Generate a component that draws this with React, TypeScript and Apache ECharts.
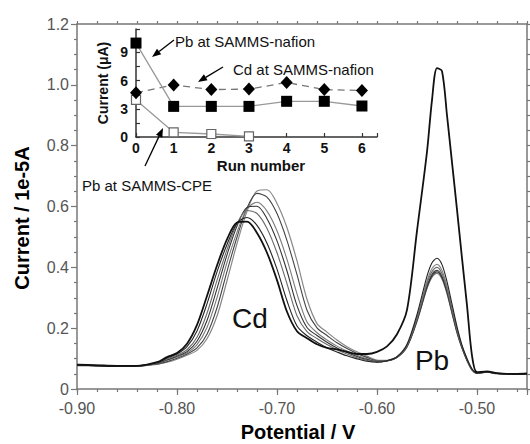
import React, { useEffect, useRef } from "react";
import * as echarts from "echarts";

// Potential grid (V), shared by all voltammograms
const potential = [
  -0.9, -0.88, -0.86, -0.84, -0.82, -0.81, -0.8, -0.79, -0.78, -0.77, -0.76, -0.75, -0.74, -0.73, -0.72, -0.71,
  -0.7, -0.69, -0.68, -0.67, -0.66, -0.65, -0.64, -0.63, -0.62, -0.61, -0.6, -0.59, -0.58, -0.57, -0.56, -0.55,
  -0.545, -0.54, -0.535, -0.53, -0.525, -0.52, -0.515, -0.51, -0.505, -0.5, -0.49, -0.48, -0.47, -0.46, -0.45,
];

// Current (1e-5 A) for runs 0..6
const run0 = [
  0.08, 0.078, 0.076, 0.076, 0.088, 0.105, 0.118, 0.149, 0.211, 0.306, 0.406, 0.492, 0.547, 0.55, 0.513, 0.448,
  0.358, 0.254, 0.19, 0.167, 0.147, 0.135, 0.13, 0.122, 0.115, 0.115, 0.122, 0.14, 0.18, 0.26, 0.52, 0.78,
  0.95, 1.055, 1.045, 0.9, 0.745, 0.59, 0.43, 0.275, 0.11, 0.055, 0.058, 0.052, 0.05, 0.05, 0.051,
];
const run1 = [
  0.078, 0.077, 0.075, 0.076, 0.086, 0.102, 0.115, 0.139, 0.191, 0.28, 0.385, 0.475, 0.545, 0.564, 0.538, 0.479,
  0.394, 0.29, 0.207, 0.175, 0.154, 0.136, 0.122, 0.109, 0.099, 0.091, 0.088, 0.093, 0.106, 0.147, 0.245, 0.371,
  0.415, 0.43, 0.409, 0.353, 0.279, 0.205, 0.144, 0.1, 0.066, 0.053, 0.056, 0.051, 0.05, 0.049, 0.05,
];
const run2 = [
  0.079, 0.078, 0.076, 0.075, 0.085, 0.099, 0.111, 0.129, 0.17, 0.249, 0.357, 0.458, 0.544, 0.587, 0.577, 0.528,
  0.448, 0.346, 0.241, 0.189, 0.166, 0.146, 0.129, 0.115, 0.103, 0.094, 0.089, 0.093, 0.105, 0.142, 0.231, 0.347,
  0.386, 0.4, 0.38, 0.329, 0.26, 0.193, 0.14, 0.097, 0.064, 0.052, 0.055, 0.051, 0.049, 0.05, 0.05,
];
const run3 = [
  0.077, 0.076, 0.075, 0.076, 0.084, 0.096, 0.108, 0.123, 0.157, 0.225, 0.33, 0.441, 0.536, 0.597, 0.601, 0.56,
  0.487, 0.388, 0.274, 0.202, 0.176, 0.154, 0.135, 0.12, 0.107, 0.097, 0.09, 0.092, 0.104, 0.139, 0.224, 0.334,
  0.372, 0.385, 0.366, 0.317, 0.251, 0.186, 0.135, 0.094, 0.063, 0.052, 0.056, 0.05, 0.05, 0.049, 0.05,
];
const run4 = [
  0.078, 0.077, 0.076, 0.075, 0.083, 0.094, 0.105, 0.119, 0.146, 0.202, 0.3, 0.416, 0.515, 0.592, 0.614, 0.585,
  0.52, 0.426, 0.313, 0.22, 0.185, 0.161, 0.141, 0.125, 0.111, 0.099, 0.091, 0.092, 0.103, 0.138, 0.222, 0.33,
  0.367, 0.38, 0.361, 0.313, 0.248, 0.184, 0.133, 0.093, 0.062, 0.051, 0.055, 0.051, 0.05, 0.05, 0.049,
];
const run5 = [
  0.079, 0.078, 0.075, 0.076, 0.082, 0.09, 0.101, 0.115, 0.135, 0.18, 0.267, 0.387, 0.499, 0.595, 0.643, 0.631,
  0.577, 0.488, 0.376, 0.259, 0.201, 0.176, 0.152, 0.133, 0.117, 0.104, 0.093, 0.093, 0.104, 0.14, 0.227, 0.338,
  0.377, 0.39, 0.371, 0.321, 0.254, 0.189, 0.137, 0.095, 0.063, 0.052, 0.056, 0.051, 0.05, 0.05, 0.05,
];
const run6 = [
  0.08, 0.077, 0.076, 0.075, 0.081, 0.088, 0.098, 0.111, 0.127, 0.165, 0.24, 0.356, 0.478, 0.584, 0.651, 0.655,
  0.61, 0.53, 0.421, 0.295, 0.215, 0.187, 0.161, 0.139, 0.122, 0.108, 0.095, 0.094, 0.105, 0.143, 0.236, 0.355,
  0.396, 0.41, 0.39, 0.337, 0.266, 0.197, 0.14, 0.098, 0.065, 0.053, 0.057, 0.052, 0.05, 0.049, 0.05,
];
const runs = [run0, run1, run2, run3, run4, run5, run6];

// Inset data (Current in uA vs run number)
const runNumber = [0, 1, 2, 3, 4, 5, 6];
const pbNafion = [10.0, 3.26, 3.26, 3.26, 3.8, 3.8, 3.3];
const cdNafion = [4.7, 5.55, 5.05, 5.1, 5.8, 5.05, 4.95];
const cpeRuns = [0, 1, 2, 3];
const pbCpe = [3.95, 0.5, 0.32, 0.07];

const SANS = "'Liberation Sans', Arial, sans-serif";

const curveStyles = [
  { color: "#111", width: 1.8 },
  { color: "#222", width: 1.1 },
  { color: "#6a6a6a", width: 1.1 },
  { color: "#333", width: 1.1 },
  { color: "#7a7a7a", width: 1.1 },
  { color: "#444", width: 1.1 },
  { color: "#888", width: 1.2 },
];

function arrow(x1: number, y1: number, x2: number, y2: number) {
  const dx = x2 - x1;
  const dy = y2 - y1;
  const len = Math.sqrt(dx * dx + dy * dy);
  const ux = dx / len;
  const uy = dy / len;
  const hl = 9;
  const hw = 3.5;
  const bx = x2 - ux * hl;
  const by = y2 - uy * hl;
  return [
    {
      type: "line",
      shape: { x1, y1, x2: bx, y2: by },
      style: { stroke: "#000", lineWidth: 1.3 },
      z: 100,
    },
    {
      type: "polygon",
      shape: {
        points: [
          [x2, y2],
          [bx - uy * hw, by + ux * hw],
          [bx + uy * hw, by - ux * hw],
        ],
      },
      style: { fill: "#000" },
      z: 100,
    },
  ];
}

export default function App() {
  const ref = useRef<HTMLDivElement>(null);

  useEffect(() => {
    const chart = echarts.init(ref.current!, null, { renderer: "svg" });
    const axisGray = "#777";
    const mainRange = { min: -0.9, max: -0.45 };

    const mainSeries = runs
      .map((r, i) => ({
        type: "line",
        xAxisIndex: 0,
        yAxisIndex: 0,
        data: potential.map((v, j) => [v, r[j]]),
        showSymbol: false,
        smooth: 0.3,
        lineStyle: { color: curveStyles[i].color, width: curveStyles[i].width },
        z: 10 - i,
        silent: true,
      }))
      .reverse();

    const option: any = {
      animation: false,
      backgroundColor: "#fff",
      grid: [
        { left: 77, right: 3, top: 24, bottom: 55 },
        { left: 136, right: 153, top: 29, bottom: 307 },
      ],
      xAxis: [
        {
          gridIndex: 0,
          type: "value",
          ...mainRange,
          interval: 0.1,
          position: "bottom",
          axisLine: { show: true, lineStyle: { color: axisGray, width: 1.5 } },
          axisTick: { show: true, length: 6, lineStyle: { color: axisGray, width: 1.2 } },
          axisLabel: {
            color: "#555",
            fontSize: 16,
            fontFamily: SANS,
            margin: 11,
            formatter: (v: number) => (Math.abs(v * 10 - Math.round(v * 10)) < 1e-6 ? v.toFixed(2) : ""),
          },
          splitLine: { show: false },
        },
        {
          gridIndex: 0,
          type: "value",
          ...mainRange,
          interval: 0.02,
          position: "bottom",
          axisLine: { show: false },
          axisTick: { show: true, length: 3, lineStyle: { color: axisGray, width: 1.2 } },
          axisLabel: { show: false },
          splitLine: { show: false },
        },
        {
          gridIndex: 0,
          type: "value",
          ...mainRange,
          interval: 0.02,
          position: "top",
          axisLine: { show: true, lineStyle: { color: axisGray, width: 1.5 } },
          axisTick: { show: true, length: 3, lineStyle: { color: axisGray, width: 1.2 } },
          axisLabel: { show: false },
          splitLine: { show: false },
        },
        {
          gridIndex: 1,
          type: "value",
          min: 0,
          max: 6.4,
          interval: 1,
          position: "bottom",
          axisLine: { show: true, lineStyle: { color: "#333", width: 1.5 } },
          axisTick: { show: true, inside: true, length: 4, lineStyle: { color: "#333", width: 1.2 } },
          axisLabel: {
            color: "#111",
            fontSize: 14,
            fontWeight: "bold",
            fontFamily: SANS,
            margin: 4,
            formatter: (v: number) => (Number.isInteger(v) ? String(v) : ""),
          },
          splitLine: { show: false },
        },
      ],
      yAxis: [
        {
          gridIndex: 0,
          type: "value",
          min: 0,
          max: 1.2,
          interval: 0.2,
          position: "left",
          axisLine: { show: true, lineStyle: { color: axisGray, width: 1.5 } },
          axisTick: { show: true, length: 6, lineStyle: { color: axisGray, width: 1.2 } },
          minorTick: { show: true, splitNumber: 4, length: 3, lineStyle: { color: axisGray, width: 1.2 } },
          axisLabel: {
            color: "#555",
            fontSize: 16,
            fontFamily: SANS,
            margin: 8,
            formatter: (v: number) => (v === 0 ? "0" : v.toFixed(1)),
          },
          splitLine: { show: false },
          minorSplitLine: { show: false },
        },
        {
          gridIndex: 0,
          type: "value",
          min: 0,
          max: 1.2,
          interval: 0.05,
          position: "right",
          axisLine: { show: true, lineStyle: { color: axisGray, width: 1.5 } },
          axisTick: { show: true, length: 3, lineStyle: { color: axisGray, width: 1.2 } },
          axisLabel: { show: false },
          splitLine: { show: false },
        },
        {
          gridIndex: 1,
          type: "value",
          min: 0,
          max: 11.5,
          interval: 1.5,
          position: "left",
          axisLine: { show: true, lineStyle: { color: "#333", width: 1.5 } },
          axisTick: { show: true, inside: true, length: 4, lineStyle: { color: "#333", width: 1.2 } },
          axisLabel: {
            color: "#111",
            fontSize: 14,
            fontWeight: "bold",
            fontFamily: SANS,
            margin: 8,
            formatter: (v: number) => (v % 3 === 0 ? String(v) : ""),
          },
          splitLine: { show: false },
        },
      ],
      series: [
        ...mainSeries,
        {
          type: "line",
          xAxisIndex: 3,
          yAxisIndex: 2,
          data: cpeRuns.map((r, i) => [r, pbCpe[i]]),
          symbol: "rect",
          symbolSize: 9,
          itemStyle: { color: "#fff", borderColor: "#666", borderWidth: 1.2 },
          lineStyle: { color: "#999", width: 1.3 },
          z: 20,
          silent: true,
        },
        {
          type: "line",
          xAxisIndex: 3,
          yAxisIndex: 2,
          data: runNumber.map((r, i) => [r, cdNafion[i]]),
          symbol: "diamond",
          symbolSize: [12, 13],
          itemStyle: { color: "#000" },
          lineStyle: { color: "#777", width: 1.3, type: [7, 5] },
          z: 20,
          silent: true,
        },
        {
          type: "line",
          xAxisIndex: 3,
          yAxisIndex: 2,
          data: runNumber.map((r, i) => [r, pbNafion[i]]),
          symbol: "rect",
          symbolSize: 11,
          itemStyle: { color: "#000" },
          lineStyle: { color: "#999", width: 1.3 },
          z: 21,
          silent: true,
        },
      ],
      graphic: [
        {
          type: "text",
          x: 22,
          y: 218,
          rotation: Math.PI / 2,
          style: {
            text: "Current / 1e-5A",
            font: `bold 20px ${SANS}`,
            fill: "#000",
            textAlign: "center",
            textVerticalAlign: "middle",
          },
        },
        {
          type: "text",
          x: 298,
          y: 432,
          style: {
            text: "Potential / V",
            font: `bold 20px ${SANS}`,
            fill: "#000",
            textAlign: "center",
            textVerticalAlign: "middle",
          },
        },
        {
          type: "text",
          x: 103,
          y: 83,
          rotation: Math.PI / 2,
          style: {
            text: "Current (\u03bcA)",
            font: `bold 14px ${SANS}`,
            fill: "#111",
            textAlign: "center",
            textVerticalAlign: "middle",
          },
        },
        {
          type: "text",
          x: 261,
          y: 165,
          style: {
            text: "Run number",
            font: `bold 15px ${SANS}`,
            fill: "#111",
            textAlign: "center",
            textVerticalAlign: "middle",
          },
        },
        {
          type: "text",
          x: 175,
          y: 41,
          style: { text: "Pb at SAMMS-nafion", font: `15px ${SANS}`, fill: "#111", textAlign: "left", textVerticalAlign: "middle" },
        },
        {
          type: "text",
          x: 233,
          y: 69,
          style: { text: "Cd at SAMMS-nafion", font: `15px ${SANS}`, fill: "#111", textAlign: "left", textVerticalAlign: "middle" },
        },
        {
          type: "text",
          x: 82,
          y: 185,
          style: { text: "Pb at SAMMS-CPE", font: `15px ${SANS}`, fill: "#111", textAlign: "left", textVerticalAlign: "middle" },
        },
        {
          type: "text",
          x: 250,
          y: 318,
          style: { text: "Cd", font: `28px ${SANS}`, fill: "#111", textAlign: "center", textVerticalAlign: "middle" },
        },
        {
          type: "text",
          x: 432,
          y: 360,
          style: { text: "Pb", font: `28px ${SANS}`, fill: "#111", textAlign: "center", textVerticalAlign: "middle" },
        },
        ...arrow(174, 40, 152, 57),
        ...arrow(223, 67, 198, 82),
        ...arrow(145, 166, 163, 128),
      ],
    };

    chart.setOption(option);
    return () => chart.dispose();
  }, []);

  return <div ref={ref} style={{ position: "absolute", left: 0, top: 0, width: 530, height: 444 }} />;
}
